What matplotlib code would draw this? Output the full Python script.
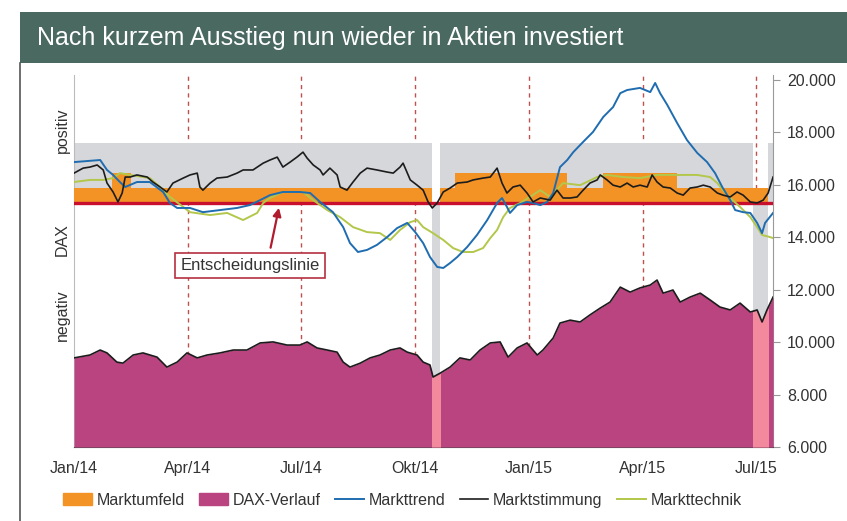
import matplotlib
matplotlib.use('Agg')
import matplotlib.pyplot as plt
import matplotlib.ticker as ticker
from matplotlib.patches import Patch, Rectangle
from matplotlib.lines import Line2D

plt.rcParams['font.family'] = ['Liberation Sans', 'DejaVu Sans']

# x-Werte: Monate seit Anfang Jan 2014 (3 = Apr/14, 18 = Jul/15)
trend_x = [0.0, 0.69, 0.87, 1.03, 1.21, 1.35, 1.66, 2.0, 2.35, 2.53, 2.72, 3.06, 3.40, 3.85,
           4.30, 4.64, 4.91, 5.17, 5.51, 5.96, 6.23, 6.49, 6.83, 7.10, 7.28, 7.49, 7.73, 7.99,
           8.26, 8.52, 8.79, 9.0, 9.21, 9.39, 9.58, 9.74, 9.92, 10.11, 10.37, 10.63, 10.90, 11.16,
           11.29, 11.42, 11.50, 11.69, 11.95, 12.11, 12.30, 12.48, 12.64, 12.82, 13.01, 13.17, 13.43,
           13.69, 13.96, 14.22, 14.41, 14.59, 14.93, 15.20, 15.33, 15.46, 15.65, 15.91, 16.17, 16.44,
           16.70, 16.91, 17.10, 17.31, 17.44, 17.65, 17.84, 18.02, 18.15, 18.23, 18.44]
markttrend = [16870, 16950, 16570, 16380, 16110, 15920, 16110, 16110, 15730, 15310, 15120, 15120,
              14960, 15040, 15120, 15230, 15420, 15610, 15730, 15730, 15690, 15350, 14960, 14390,
              13780, 13440, 13520, 13710, 14010, 14350, 14550, 14200, 13780, 13250, 12870, 12830,
              13020, 13250, 13630, 14090, 14660, 15310, 15500, 15160, 14930, 15230, 15350, 15310,
              15230, 15350, 15690, 16680, 16950, 17250, 17640, 18020, 18590, 18970, 19500, 19620,
              19700, 19540, 19890, 19500, 19050, 18360, 17710, 17220, 16870, 16450, 15920, 15420,
              15040, 14960, 14930, 14550, 14160, 14550, 14930]

technik_x = [0.0, 0.42, 0.77, 1.03, 1.21, 1.48, 2.0, 2.27, 2.53, 2.88, 3.06, 3.59, 4.04, 4.46,
             4.83, 4.99, 5.17, 5.51, 6.04, 6.31, 6.68, 7.02, 7.36, 7.73, 8.07, 8.34, 8.60, 8.87,
             9.05, 9.21, 9.47, 9.74, 10.0, 10.26, 10.53, 10.79, 10.98, 11.16, 11.32, 11.50, 11.77,
             12.03, 12.30, 12.56, 12.90, 13.35, 13.80, 14.06, 14.49, 14.93, 15.38, 15.91, 16.44,
             16.78, 16.97, 17.12, 17.31, 17.57, 17.84, 18.02, 18.15, 18.36, 18.44]
markttechnik = [16110, 16190, 16190, 16260, 16450, 16380, 16260, 15920, 15540, 15160, 14960,
                14850, 14930, 14660, 14930, 15310, 15500, 15730, 15730, 15420, 15040, 14770,
                14390, 14200, 14160, 13900, 14280, 14580, 14660, 14390, 14160, 13900, 13590,
                13440, 13440, 13590, 13970, 14280, 14770, 15120, 15310, 15540, 15800, 15540,
                16070, 15990, 16300, 16380, 16300, 16260, 16380, 16380, 16380, 16300, 16070,
                15800, 15500, 15160, 14770, 14390, 14090, 14010, 13970]

stimmung_x = [0.0, 0.24, 0.42, 0.61, 0.77, 0.87, 1.03, 1.16, 1.27, 1.35, 1.48, 1.66, 1.93, 2.08,
              2.27, 2.45, 2.61, 2.88, 3.06, 3.25, 3.32, 3.40, 3.59, 3.77, 4.04, 4.30, 4.46, 4.72,
              4.99, 5.17, 5.36, 5.51, 5.70, 5.88, 6.04, 6.15, 6.31, 6.49, 6.57, 6.75, 6.94, 7.02,
              7.20, 7.36, 7.55, 7.73, 7.99, 8.26, 8.42, 8.60, 8.68, 8.87, 9.05, 9.21, 9.34, 9.45,
              9.58, 9.74, 9.92, 10.11, 10.37, 10.53, 10.79, 10.98, 11.16, 11.29, 11.42, 11.58, 11.77,
              11.95, 12.11, 12.30, 12.56, 12.74, 12.90, 13.09, 13.27, 13.43, 13.61, 13.80, 13.88,
              14.06, 14.22, 14.41, 14.59, 14.75, 14.93, 15.12, 15.25, 15.38, 15.54, 15.73, 15.91,
              16.07, 16.25, 16.44, 16.60, 16.78, 16.97, 17.12, 17.31, 17.49, 17.65, 17.84, 18.02,
              18.18, 18.31, 18.44]
marktstimmung = [16450, 16640, 16680, 16760, 16570, 16070, 15730, 15350, 15690, 16300, 16300,
                 16380, 16300, 16110, 15920, 15730, 16070, 16260, 16380, 16450, 15920, 15800,
                 16070, 16260, 16300, 16450, 16570, 16570, 16830, 16950, 17060, 16680, 16870,
                 17060, 17250, 17020, 16760, 16570, 16380, 16640, 16380, 15920, 15800, 16110,
                 16450, 16640, 16570, 16490, 16450, 16680, 16830, 16190, 15990, 15800, 15350,
                 15120, 15310, 15730, 15880, 16070, 16110, 16190, 16260, 16300, 16640, 16070,
                 15690, 15920, 15990, 15690, 15350, 15500, 15420, 15800, 15500, 15500, 15540,
                 15800, 16070, 16190, 16380, 16190, 15990, 15920, 16070, 15920, 15990, 15920,
                 16380, 16110, 15920, 15880, 15690, 15610, 15880, 15920, 15990, 15920, 15690,
                 15610, 15540, 15730, 15610, 15350, 15310, 15420, 15690, 16300]

dax_x = [0.0, 0.42, 0.69, 0.87, 1.13, 1.29, 1.56, 1.82, 2.19, 2.45, 2.72, 2.98, 3.25, 3.51,
         3.85, 4.20, 4.56, 4.91, 5.25, 5.62, 5.96, 6.15, 6.41, 6.68, 6.94, 7.10, 7.28, 7.55,
         7.81, 8.07, 8.34, 8.60, 8.79, 9.05, 9.21, 9.39, 9.47, 9.66, 9.92, 10.18, 10.45, 10.71,
         10.98, 11.24, 11.45, 11.69, 11.95, 12.22, 12.37, 12.64, 12.82, 13.09, 13.35, 13.61,
         13.88, 14.14, 14.41, 14.67, 14.93, 15.20, 15.38, 15.54, 15.80, 15.99, 16.25, 16.52,
         16.78, 17.04, 17.31, 17.57, 17.84, 18.02, 18.15, 18.28, 18.44]
dax = [9400, 9510, 9700, 9590, 9240, 9200, 9510, 9590, 9430, 9050, 9240, 9590, 9400, 9510,
       9590, 9700, 9700, 9970, 10010, 9890, 9890, 10010, 9780, 9700, 9620, 9240, 9050, 9200,
       9400, 9510, 9700, 9780, 9620, 9510, 9240, 9130, 8670, 8820, 9050, 9400, 9320, 9700,
       9970, 10010, 9430, 9780, 9970, 9510, 9700, 10160, 10730, 10840, 10770, 11040, 11300,
       11530, 12100, 11910, 12070, 12180, 12370, 11870, 11990, 11530, 11720, 11870, 11610,
       11340, 11230, 11490, 11150, 11230, 10770, 11230, 11720]

# Marktumfeld: positive / negative Phasen und Hoehe des orangen Balkens
entscheidungslinie = 15300
band_oben = 17600
umfeld_start = [0.0, 1.0, 1.5, 9.66, 10.05, 13.0, 13.96, 15.91]
umfeld_ende = [1.0, 1.5, 9.43, 10.05, 13.0, 13.96, 15.91, 18.31]
umfeld_oben = [15900, 16450, 15900, 15900, 16450, 15900, 16450, 15900]
positiv_start = [0.0, 9.66, 18.31]
positiv_ende = [9.43, 17.92, 18.44]
negativ_start = [9.43, 17.92]
negativ_ende = [9.66, 18.31]

monate = [0, 3, 6, 9, 12, 15, 18]
monat_labels = ['Jan/14', 'Apr/14', 'Jul/14', 'Okt/14', 'Jan/15', 'Apr/15', 'Jul/15']

c_orange = '#f39326'
c_dax = '#b9447f'
c_dax_neg = '#f2899c'
c_grau = '#d6d7db'
c_rot = '#c8102e'
c_blau = '#1f6db0'
c_schwarz = '#1c1c1c'
c_gruen = '#b3c74a'

fig = plt.figure(figsize=(8.47, 5.21), dpi=100)
ax = fig.add_axes([0.0874, 0.142, 0.8253, 0.7144])

# Titelbalken
fig.patches.append(Rectangle((0.0236, 0.879), 0.98, 0.098, transform=fig.transFigure,
                             facecolor='#4a6961', edgecolor='none', zorder=0))
fig.text(0.044, 0.928, 'Nach kurzem Ausstieg nun wieder in Aktien investiert', color='white',
         fontsize=18, va='center', ha='left')
fig.add_artist(Line2D([0.0236, 0.0236], [0.0, 0.879], transform=fig.transFigure,
                      color='#555555', lw=1.2))

# senkrechte Quartalslinien
ax.vlines(monate[1:], 6000, 20200, colors='#c0504d', linestyles=(0, (3, 3)), lw=1.0, zorder=1)

# Hintergrund Marktumfeld
breite_pos = [e - s for s, e in zip(positiv_start, positiv_ende)]
ax.bar(positiv_start, band_oben - entscheidungslinie, width=breite_pos, bottom=entscheidungslinie,
       align='edge', color=c_grau, lw=0, zorder=2)
breite_neg = [e - s for s, e in zip(negativ_start, negativ_ende)]
ax.bar(negativ_start, entscheidungslinie - 6000, width=breite_neg, bottom=6000,
       align='edge', color=c_grau, lw=0, zorder=2)
breite_umf = [e - s for s, e in zip(umfeld_start, umfeld_ende)]
ax.bar(umfeld_start, [o - entscheidungslinie for o in umfeld_oben], width=breite_umf,
       bottom=entscheidungslinie, align='edge', color=c_orange, lw=0, zorder=3)

# DAX-Verlauf
ax.fill_between(dax_x, 6000, dax, color=c_dax, lw=0, zorder=4)
for s, e in zip(negativ_start, negativ_ende):
    neg = ax.fill_between(dax_x, 6000, dax, color=c_dax_neg, lw=0, zorder=4.5)
    neg.set_clip_path(Rectangle((s, 6000), e - s, 10000, transform=ax.transData))
ax.plot(dax_x, dax, color=c_schwarz, lw=1.2, zorder=5)

ax.axhline(entscheidungslinie, color=c_rot, lw=2.4, zorder=6)

ax.plot(technik_x, markttechnik, color=c_gruen, lw=1.4, zorder=7)
ax.plot(trend_x, markttrend, color=c_blau, lw=1.4, zorder=8)
ax.plot(stimmung_x, marktstimmung, color=c_schwarz, lw=1.2, zorder=9)

# Entscheidungslinie Hinweis
ax.text(4.64, 12940, 'Entscheidungslinie', fontsize=12, color='#333333', ha='center', va='center',
        zorder=10, bbox=dict(boxstyle='square,pad=0.3', fc='white', ec='#b5303f', lw=1.2))
ax.annotate('', xy=(5.42, 15230), xytext=(5.17, 13500),
            arrowprops=dict(arrowstyle='-|>', color='#b01c2e', lw=1.6, mutation_scale=12), zorder=10)

ax.set_xlim(0, 18.44)
ax.set_ylim(6000, 20200)
ax.set_xticks(monate)
ax.set_xticklabels(monat_labels)
ax.yaxis.tick_right()
ax.yaxis.set_major_locator(ticker.MultipleLocator(2000))
ax.yaxis.set_major_formatter(ticker.FuncFormatter(lambda v, p: f'{v:,.0f}'.replace(',', '.')))
ax.tick_params(axis='y', direction='out', length=5, color='#999999', labelsize=11.5,
               labelcolor='#333333', pad=5)
ax.tick_params(axis='x', length=0, labelsize=11.5, labelcolor='#333333', pad=10)
ax.spines['top'].set_visible(False)
ax.spines['left'].set_color('#bbbbbb')
ax.spines['right'].set_color('#999999')
ax.spines['bottom'].set_color('#444444')

# linke Beschriftung
for txt, y in [('positiv', 130), ('DAX', 240), ('negativ', 315)]:
    fig.text(62 / 847, 1 - y / 521, txt, rotation=90, ha='center', va='center', fontsize=11.5,
             color='#333333')

handles = [Patch(color=c_orange, label='Marktumfeld'),
           Patch(color=c_dax, label='DAX-Verlauf'),
           Line2D([], [], color=c_blau, lw=1.4, label='Markttrend'),
           Line2D([], [], color=c_schwarz, lw=1.2, label='Marktstimmung'),
           Line2D([], [], color=c_gruen, lw=1.4, label='Markttechnik')]
fig.legend(handles=handles, loc='center', bbox_to_anchor=(0.475, 0.04), ncol=5, frameon=False,
           fontsize=11.5, handlelength=1.8, handletextpad=0.3, columnspacing=0.9,
           labelcolor='#333333')

fig.savefig('out.png', dpi=100)
